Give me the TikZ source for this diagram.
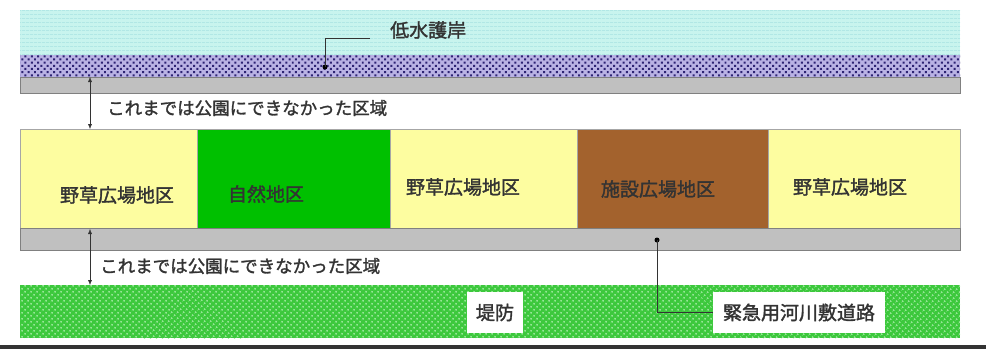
\documentclass[tikz,border=0pt]{standalone}
\usepackage{fontspec}
\newfontfamily\cjk{Noto Sans CJK JP}[FakeBold=1.6]
\usepackage{tikz}
\usetikzlibrary{arrows.meta, positioning, patterns.meta}

\definecolor{water}{RGB}{200,244,238}
\definecolor{wave}{RGB}{165,225,225}
\definecolor{revet}{RGB}{185,178,228}
\definecolor{revetdot}{RGB}{45,35,115}
\definecolor{roadgray}{RGB}{192,192,192}
\definecolor{meadow}{RGB}{253,253,160}
\definecolor{nature}{RGB}{0,192,0}
\definecolor{facility}{RGB}{163,98,45}
\definecolor{dike}{RGB}{60,200,60}
\definecolor{dikedot}{RGB}{150,230,150}

\begin{document}
\begin{tikzpicture}[
    x=1pt, y=-1pt,
    band/.style={rectangle, anchor=north west, inner sep=0pt, outer sep=0pt, minimum width=940pt},
    zone/.style={rectangle, draw=black!35, thin, anchor=north west, inner sep=0pt, outer sep=0pt, minimum height=99pt},
    lbl/.style={font=\cjk\fontsize{19}{19}\selectfont, text=black!80, inner sep=0pt},
    note/.style={font=\cjk\fontsize{17.5}{17.5}\selectfont, text=black!80, inner sep=0pt, anchor=west},
    tag/.style={fill=white, inner sep=0pt, minimum height=41pt, font=\cjk\fontsize{19}{19}\selectfont, text=black!80},
    dim/.style={{Latex[length=5pt,width=4pt]}-{Latex[length=5pt,width=4pt]}, black!80, thin},
    lead/.style={black!80, thin},
  ]
    \useasboundingbox (0,0) rectangle (986,349);

    % river side
    \node[band, fill=water, minimum height=45pt, postaction={pattern={Lines[distance=4pt, line width=0.8pt]}, pattern color=wave}] (W) at (20,10) {};
    \node[band, fill=revet, minimum height=22pt, postaction={pattern={Dots[distance=4.5pt, radius=1.4pt, angle=45]}, pattern color=revetdot}] (R) at (20,55) {};
    \node[band, fill=roadgray, draw=black!50, minimum height=16pt] (P1) at (20,77) {};

    % zones
    \node[zone, fill=meadow, minimum width=177pt] (Z1) at (20,129) {};
    \node[zone, fill=nature, minimum width=193pt, right=0pt of Z1] (Z2) {};
    \node[zone, fill=meadow, minimum width=187pt, right=0pt of Z2] (Z3) {};
    \node[zone, fill=facility, minimum width=191pt, right=0pt of Z3] (Z4) {};
    \node[zone, fill=meadow, minimum width=192pt, right=0pt of Z4] (Z5) {};
    \node[lbl] (L1) at (117,195) {野草広場地区};
    \node[lbl] (L2) at (266,194) {自然地区};
    \node[lbl] (L3) at (463,187) {野草広場地区};
    \node[lbl] (L4) at (658,189) {施設広場地区};
    \node[lbl] (L5) at (850,187) {野草広場地区};

    % land side
    \node[band, fill=roadgray, draw=black!50, minimum height=22pt] (P2) at (20,228) {};
    \node[band, fill=dike, minimum height=53pt, postaction={pattern={Dots[distance=4pt, radius=1.2pt, angle=45]}, pattern color=dikedot}] (D) at (20,285) {};
    \node[tag, minimum width=56pt] (DK) at (495,312.5) {堤防};
    \node[tag, minimum width=172pt] (RD) at (799,312.5) {緊急用河川敷道路};

    % spans not used as park before
    \coordinate (u1) at (90,77);
    \coordinate (u2) at (90,129);
    \coordinate (d1) at (90,229);
    \coordinate (d2) at (90,285);
    \draw[dim] (u1) -- (u2);
    \draw[dim] (d1) -- (d2);
    \node[note] (N1) at (107,108) {これまでは公園にできなかった区域};
    \node[note] (N2) at (100,266) {これまでは公園にできなかった区域};

    % leaders
    \node[lbl, anchor=west] (LW) at (390,30) {低水護岸};
    \coordinate (lw) at (325,67);
    \coordinate (lwend) at (370,38);
    \fill[black] (lw) circle (2.5pt);
    \draw[lead] (lw) |- (lwend);
    \coordinate (rd) at (657,240);
    \fill[black] (rd) circle (2.5pt);
    \draw[lead] (rd) |- (RD.west);

    \fill[black!80] (0,345) rectangle (986,349);
\end{tikzpicture}
\end{document}
